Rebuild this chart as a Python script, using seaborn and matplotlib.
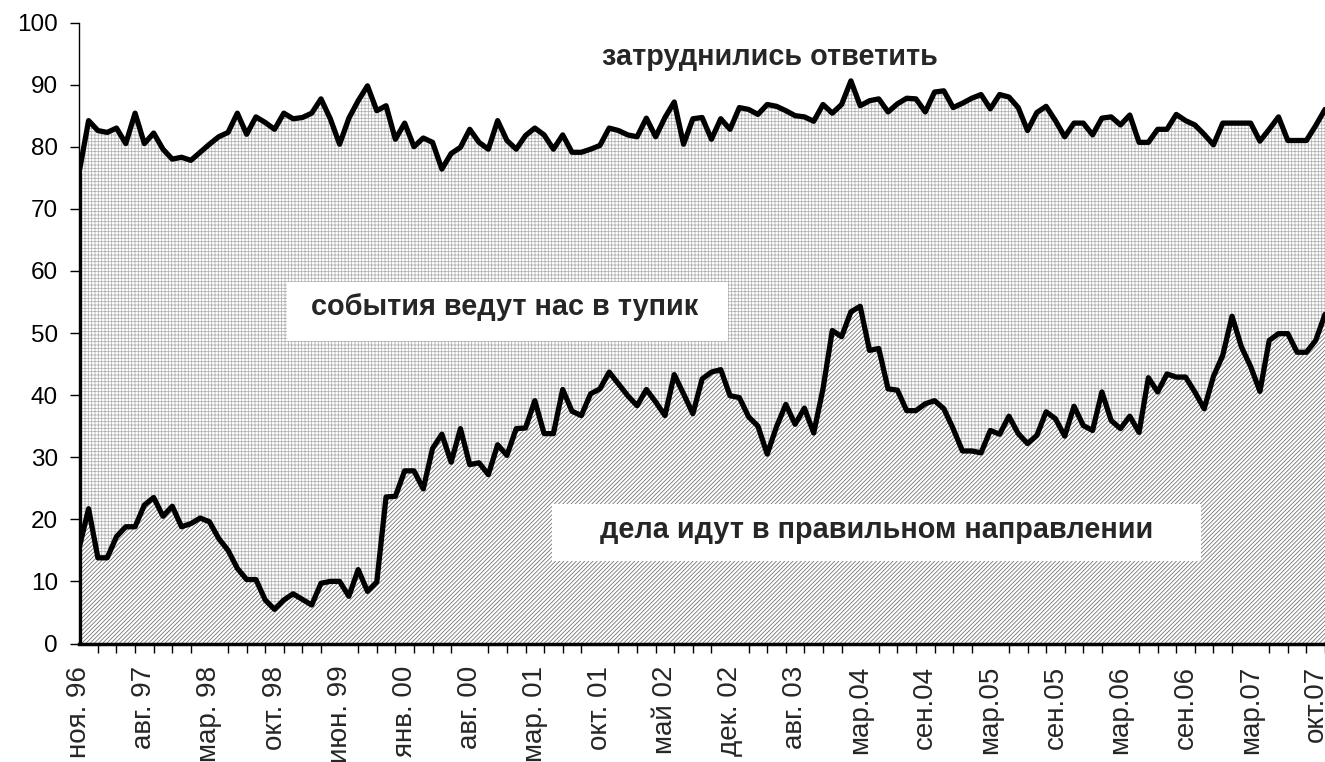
import numpy as np
import matplotlib
matplotlib.use("Agg")
import matplotlib.pyplot as plt
import seaborn as sns
from matplotlib.patches import Rectangle

# доля ответивших "дела идут в правильном направлении", %
pravilno = [
    15.5, 21.7, 13.8, 13.8, 17.2, 18.8, 18.8, 22.3, 23.5, 20.5,
    22.1, 18.8, 19.3, 20.2, 19.6, 16.9, 15.0, 12.1, 10.3, 10.3,
    7.0, 5.5, 7.0, 8.0, 7.1, 6.2, 9.7, 10.0, 10.0, 7.6,
    11.9, 8.4, 9.9, 23.6, 23.7, 27.8, 27.8, 24.9, 31.4, 33.7,
    29.2, 34.6, 28.8, 29.1, 27.2, 32.0, 30.3, 34.6, 34.7, 39.1,
    33.8, 33.8, 40.9, 37.4, 36.7, 40.2, 41.0, 43.7, 41.8, 39.9,
    38.3, 40.9, 38.9, 36.7, 43.3, 40.2, 37.0, 42.6, 43.7, 44.1,
    39.9, 39.6, 36.5, 35.0, 30.5, 34.9, 38.5, 35.3, 37.9, 33.9,
    41.0, 50.4, 49.4, 53.4, 54.3, 47.2, 47.5, 41.0, 40.8, 37.5,
    37.5, 38.6, 39.1, 37.8, 34.6, 31.0, 31.0, 30.7, 34.3, 33.7,
    36.6, 33.8, 32.2, 33.5, 37.3, 36.2, 33.4, 38.2, 35.1, 34.3,
    40.5, 35.9, 34.6, 36.6, 34.0, 42.8, 40.5, 43.4, 42.9, 42.9,
    40.5, 37.8, 43.0, 46.4, 52.7, 47.8, 44.6, 40.6, 48.8, 49.9,
    49.9, 46.9, 46.9, 48.8, 53.0,
]

# "правильно" + "тупик" вместе (верхняя линия), %
pravilno_i_tupik = [
    76.0, 84.2, 82.6, 82.3, 83.0, 80.5, 85.4, 80.5, 82.2, 79.6,
    78.0, 78.3, 77.8, 79.1, 80.4, 81.6, 82.3, 85.4, 82.0, 84.8,
    83.9, 82.8, 85.4, 84.5, 84.7, 85.4, 87.7, 84.5, 80.4, 84.6,
    87.4, 89.8, 85.8, 86.6, 81.2, 83.8, 80.0, 81.4, 80.7, 76.4,
    78.9, 79.9, 82.8, 80.7, 79.6, 84.2, 81.0, 79.6, 81.8, 83.0,
    81.9, 79.6, 81.9, 79.1, 79.1, 79.6, 80.2, 83.0, 82.6, 81.9,
    81.6, 84.6, 81.6, 84.7, 87.2, 80.4, 84.5, 84.7, 81.2, 84.5,
    82.8, 86.3, 86.0, 85.2, 86.8, 86.5, 85.8, 85.0, 84.8, 84.1,
    86.8, 85.4, 86.8, 90.6, 86.6, 87.4, 87.7, 85.6, 86.9, 87.8,
    87.7, 85.6, 88.8, 89.0, 86.3, 87.0, 87.8, 88.4, 86.1, 88.4,
    88.0, 86.3, 82.6, 85.5, 86.5, 84.2, 81.6, 83.8, 83.8, 81.9,
    84.6, 84.8, 83.5, 85.1, 80.7, 80.7, 82.8, 82.8, 85.2, 84.2,
    83.5, 82.0, 80.3, 83.8, 83.8, 83.8, 83.8, 80.9, 82.8, 84.8,
    81.0, 81.0, 81.0, 83.4, 86.0,
]

tick_labels = [
    "ноя. 96", "авг. 97", "мар. 98", "окт. 98", "июн. 99", "янв. 00",
    "авг. 00", "мар. 01", "окт. 01", "май 02", "дек. 02", "авг. 03",
    "мар.04", "сен.04", "мар.05", "сен.05", "мар.06", "сен.06",
    "мар.07", "окт.07",
]

sns.set_style("white")
plt.rcParams['font.family'] = ['Liberation Sans', 'DejaVu Sans']
plt.rcParams['hatch.linewidth'] = 0.55

x = np.arange(len(pravilno))
bottom = np.array(pravilno)
top = np.array(pravilno_i_tupik)
tupik = top - bottom
zatrudn = 100 - top

fig = plt.figure(figsize=(13.25, 7.62), dpi=100)
ax = fig.add_axes([79.3 / 1325, 118.5 / 762, 1 - 79.3 / 1325, 621 / 762])

# заливки со штриховкой
polys = ax.stackplot(x, bottom, tupik, zatrudn, colors=["white"] * 3, linewidth=0)
polys[0].set_hatch("////////")
polys[0].set_edgecolor("#6a6a6a")
polys[1].set_hatch("+++++")
polys[1].set_edgecolor("#b0b0b0")
polys[2].set_edgecolor("none")

# контуры
sns.lineplot(x=x, y=bottom, color="black", linewidth=3.8, ax=ax, zorder=3)
sns.lineplot(x=x, y=top, color="black", linewidth=3.8, ax=ax, zorder=3)
ax.vlines(x[0], 0, top[0], color="black", linewidth=3.8, zorder=3)

ax.set_xlim(0, (1325 - 79.3) / 9.34)
ax.set_ylim(0, 100)

ax.set_yticks(range(0, 101, 10))
ax.tick_params(axis="y", left=True, length=6.5, width=1, pad=9, labelsize=17.5, colors="black")
ax.set_xticks(x[::7])
ax.set_xticklabels(tick_labels, rotation=90, ha="center", va="top")
ax.set_xticks(x[::2], minor=True)
ax.tick_params(axis="x", which="major", bottom=True, length=0, pad=16, labelsize=20)
ax.tick_params(axis="x", which="minor", bottom=True, length=6.5, width=1, color="black")

for s in ["top", "right"]:
    ax.spines[s].set_visible(False)
ax.spines["left"].set_color("black")
ax.spines["left"].set_linewidth(1)
ax.spines["bottom"].set_color("black")
ax.spines["bottom"].set_linewidth(2.5)

# подписи в белых рамках
ax.add_patch(Rectangle((22.35, 48.7), 69.8 - 22.35, 58.2 - 48.7,
                       facecolor="white", edgecolor="none", zorder=4))
ax.add_patch(Rectangle((50.8, 13.3), 120.7 - 50.8, 22.5 - 13.3,
                       facecolor="white", edgecolor="none", zorder=4))
ax.text(45.8, 54.2, "события ведут нас в тупик", ha="center", va="center",
        fontsize=20.8, fontweight="bold", zorder=5)
ax.text(85.8, 18.3, "дела идут в правильном направлении", ha="center", va="center",
        fontsize=20.8, fontweight="bold", zorder=5)
ax.text(74.3, 94.4, "затруднились ответить", ha="center", va="center",
        fontsize=20.8, fontweight="bold", zorder=5)

fig.savefig("out.png", dpi=100)
